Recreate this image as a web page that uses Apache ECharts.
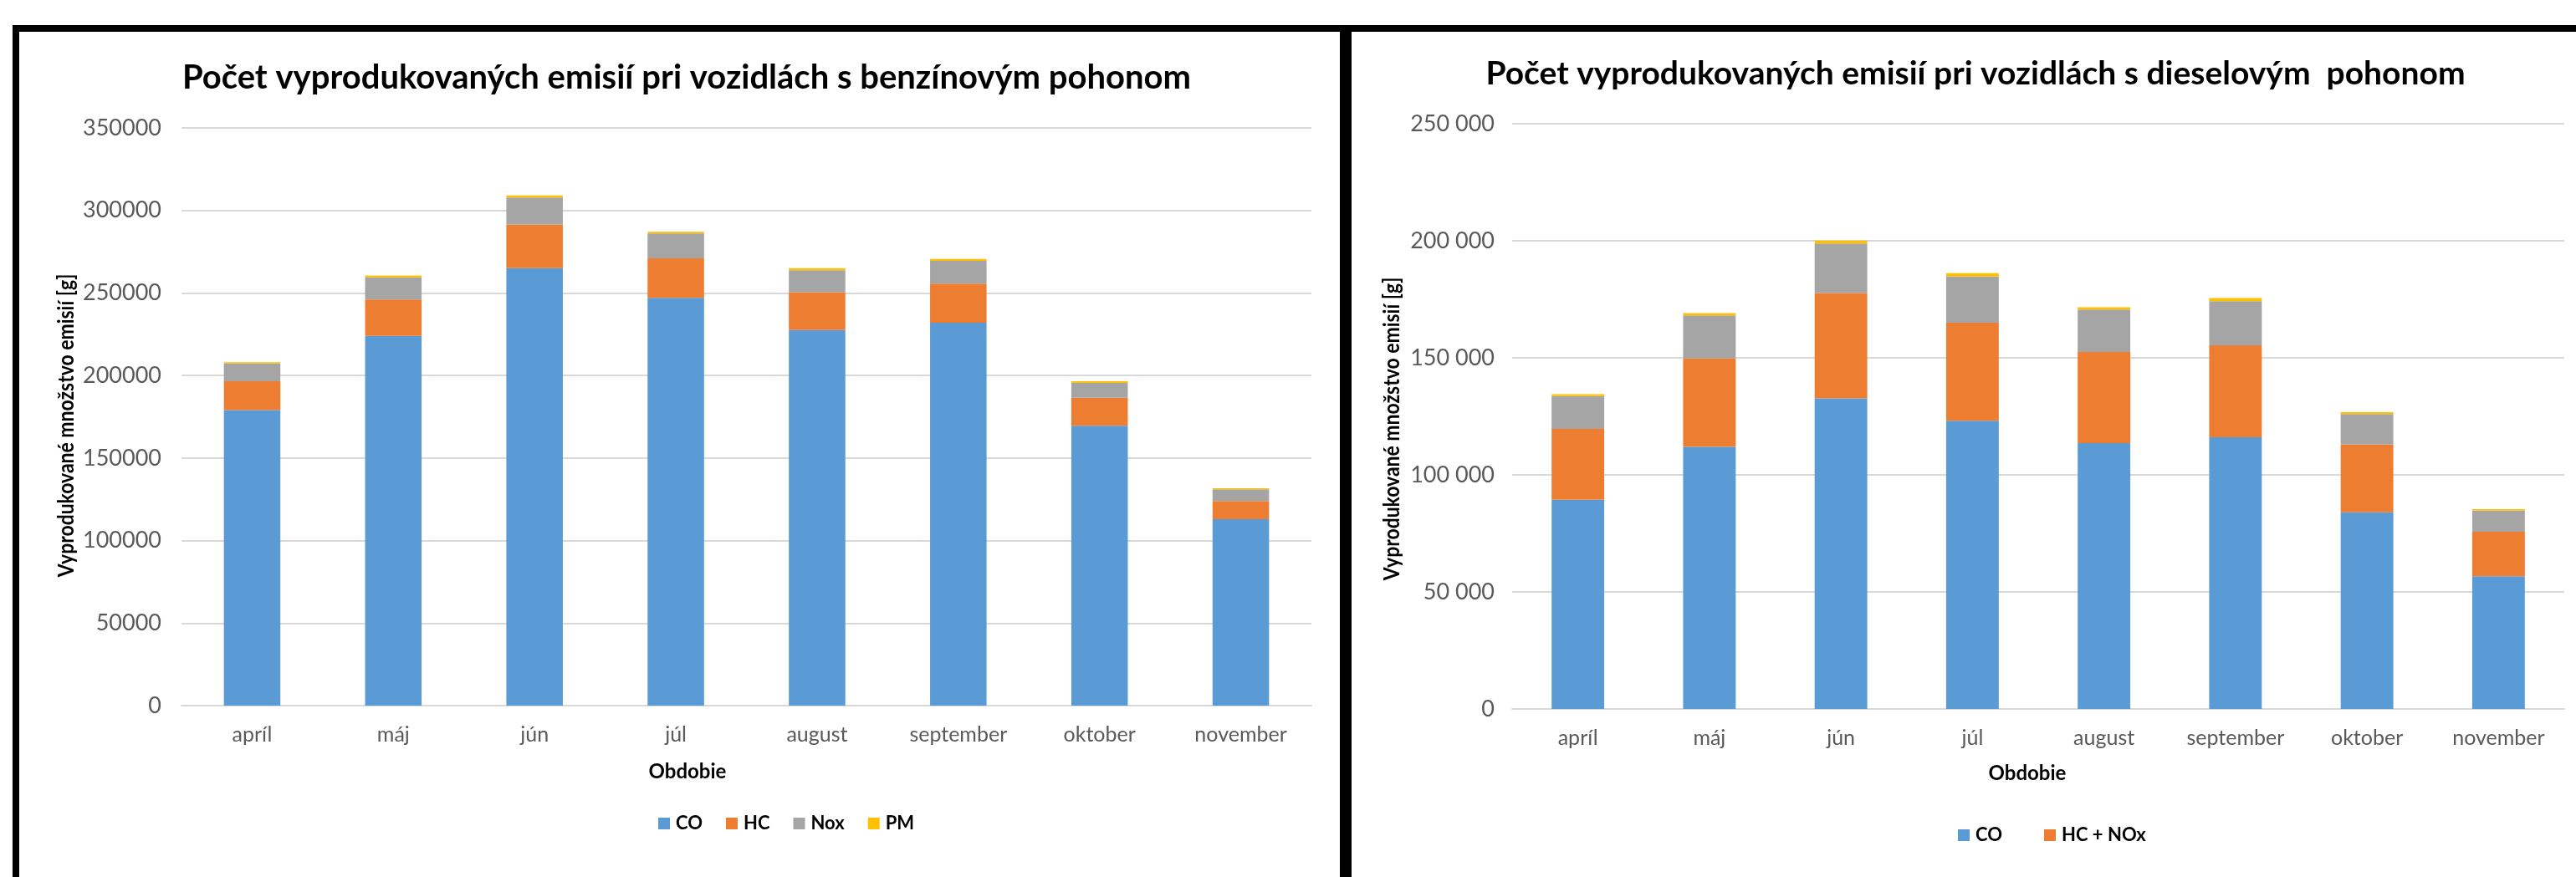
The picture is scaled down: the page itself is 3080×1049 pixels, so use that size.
<!DOCTYPE html>
<html>
<head>
<meta charset="utf-8">
<script src="https://cdn.jsdelivr.net/npm/echarts@6/dist/echarts.min.js"></script>
<style>
html,body{margin:0;padding:0;background:#fff;}
#c{width:3080px;height:1049px;}
</style>
</head>
<body>
<div id="c"></div>
<script>
// ---- Data ----
const categories = ['apríl', 'máj', 'jún', 'júl', 'august', 'september', 'oktober', 'november'];

// Left chart: petrol (benzín)
const benzCO  = [179000, 224000, 265000, 247000, 227500, 232000, 169500, 113000];
const benzHC  = [17500, 22000, 26500, 24000, 23000, 23700, 17000, 11000];
const benzNOx = [10800, 13500, 16300, 15000, 13300, 13800, 9000, 7000];
const benzPM  = [800, 1100, 1300, 1100, 1200, 1100, 1000, 700];

// Right chart: diesel
const dieselCO     = [89400, 112000, 132700, 123100, 113600, 116100, 84000, 56700];
const dieselHCNOx  = [30200, 37800, 45000, 41900, 38900, 39300, 29000, 19000];
const dieselNOx    = [14100, 18300, 21100, 19700, 18100, 18800, 13000, 9000];
const dieselPM     = [800, 1000, 1300, 1500, 1000, 1300, 800, 700];

const leftTicks = { min: 0, max: 350000, interval: 50000 };
const rightTicks = { min: 0, max: 250000, interval: 50000 };

const titleLeft = 'Počet vyprodukovaných emisií pri vozidlách s benzínovým pohonom';
const titleRight = 'Počet vyprodukovaných emisií pri vozidlách s dieselovým  pohonom';
const yName = 'Vyprodukované množstvo emisií [g]';
const xName = 'Obdobie';

// ---- Styles ----
const FONT = 'Lato, "Open Sans", sans-serif';
const C_CO = '#5B9BD5', C_HC = '#ED7D31', C_NOX = '#A5A5A5', C_PM = '#FFC000';
const GRID = '#D9D9D9';

const chart = echarts.init(document.getElementById('c'), null, { renderer: 'canvas' });

function yAxisCfg(idx, ticks, fmt, margin) {
  return {
    type: 'value', gridIndex: idx, min: ticks.min, max: ticks.max, interval: ticks.interval,
    axisLine: { show: false }, axisTick: { show: false },
    splitLine: { lineStyle: { color: GRID, width: 2 } },
    axisLabel: { color: '#595959', fontSize: 27, fontFamily: FONT, margin: margin, formatter: fmt }
  };
}
function xAxisCfg(idx) {
  return {
    type: 'category', gridIndex: idx, data: categories,
    axisLine: { lineStyle: { color: GRID, width: 2 } }, axisTick: { show: false },
    axisLabel: { color: '#595959', fontSize: 25, fontFamily: FONT, margin: 22 }
  };
}
function barSeries(name, data, color, idx) {
  return {
    name: name, type: 'bar', stack: 's' + idx, data: data,
    xAxisIndex: idx, yAxisIndex: idx, barWidth: '40%',
    itemStyle: { color: color }, emphasis: { disabled: true }
  };
}
function rotatedName(x, y) {
  return { type: 'text', silent: true, x: x, y: y, rotation: Math.PI / 2, scaleX: 0.85,
    style: { text: yName, textAlign: 'center', textVerticalAlign: 'middle',
      fontFamily: FONT, fontSize: 27, fontWeight: 'bold', fill: '#000' } };
}

const option = {
  animation: false,
  backgroundColor: '#fff',
  title: [
    { text: titleLeft, left: 816, top: 68, textAlign: 'center',
      textStyle: { fontFamily: FONT, fontSize: 40, fontWeight: 'bold', color: '#000' } },
    { text: titleRight, left: 2357, top: 64, textAlign: 'center',
      textStyle: { fontFamily: FONT, fontSize: 39, fontWeight: 'bold', color: '#000' } }
  ],
  legend: [
    { data: ['CO', 'HC', 'Nox', 'PM'], left: 782, top: 969, itemWidth: 14, itemHeight: 14, itemGap: 28,
      icon: 'rect', textStyle: { fontFamily: FONT, fontSize: 22, fontWeight: 'bold', color: '#000', padding: [0,0,0,2] } },
    { data: ['CO', 'HC + NOx'], left: 2336, top: 983, itemWidth: 14, itemHeight: 14, itemGap: 50,
      icon: 'rect', textStyle: { fontFamily: FONT, fontSize: 22, fontWeight: 'bold', color: '#000', padding: [0,0,0,2] } }
  ],
  grid: [
    { left: 217, top: 153, width: 1351, height: 691 },
    { left: 1808, top: 148, width: 1258, height: 700 }
  ],
  xAxis: [xAxisCfg(0), xAxisCfg(1)],
  yAxis: [
    yAxisCfg(0, leftTicks, v => String(v), 24),
    yAxisCfg(1, rightTicks, v => String(v).replace(/\B(?=(\d{3})+(?!\d))/g, ' '), 21)
  ],
  series: [
    barSeries('CO', benzCO, C_CO, 0),
    barSeries('HC', benzHC, C_HC, 0),
    barSeries('Nox', benzNOx, C_NOX, 0),
    barSeries('PM', benzPM, C_PM, 0),
    barSeries('CO', dieselCO, C_CO, 1),
    barSeries('HC + NOx', dieselHCNOx, C_HC, 1),
    barSeries('NOx', dieselNOx, C_NOX, 1),
    barSeries('PM', dieselPM, C_PM, 1)
  ],
  graphic: [
    { type: 'rect', silent: true, shape: { x: 15, y: 30, width: 3065, height: 8 }, style: { fill: '#000' } },
    { type: 'rect', silent: true, shape: { x: 15, y: 30, width: 8, height: 1019 }, style: { fill: '#000' } },
    { type: 'rect', silent: true, shape: { x: 1602, y: 30, width: 14, height: 1019 }, style: { fill: '#000' } },
    rotatedName(79, 509),
    rotatedName(1664, 513),
    { type: 'text', silent: true, style: { text: xName, x: 822, y: 923, textAlign: 'center', textVerticalAlign: 'middle',
      fontFamily: FONT, fontSize: 24, fontWeight: 'bold', fill: '#000' } },
    { type: 'text', silent: true, style: { text: xName, x: 2424, y: 925, textAlign: 'center', textVerticalAlign: 'middle',
      fontFamily: FONT, fontSize: 24, fontWeight: 'bold', fill: '#000' } }
  ]
};
chart.setOption(option);
</script>
</body>
</html>
